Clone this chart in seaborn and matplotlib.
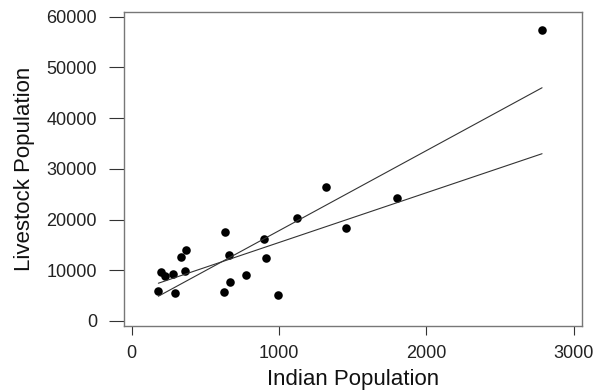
import numpy as np
import pandas as pd
import seaborn as sns
import matplotlib
matplotlib.use("Agg")
import matplotlib.pyplot as plt

# valores
indian_pop = [182, 200, 229, 282, 297, 338, 361, 372, 626, 636, 659, 670,
              777, 899, 912, 994, 1123, 1318, 1453, 1799, 2785]
livestock_pop = [5900, 9600, 8930, 9270, 5580, 12620, 9860, 14000, 5720, 17490,
                 13080, 7750, 9070, 16230, 12420, 5130, 20370, 26370, 18280,
                 24260, 57390]
x_ticks = [0, 1000, 2000, 3000]
y_ticks = [0, 10000, 20000, 30000, 40000, 50000, 60000]

df = pd.DataFrame({"indian": indian_pop, "livestock": livestock_pop})

sns.set_style("ticks")
plt.rcParams["font.family"] = ["Liberation Sans", "DejaVu Sans"]

fig = plt.figure(figsize=(5.94, 3.91), dpi=100)
ax = fig.add_axes([0.2088, 0.1662, 0.7705, 0.8038])

# reta com todos os pontos
sns.regplot(data=df, x="indian", y="livestock", ci=None, ax=ax,
            scatter_kws=dict(s=38, color="black", linewidths=0, alpha=1),
            line_kws=dict(color="#333333", lw=0.8))

# reta sem o ponto extremo, estendida ate o maior x
sub = df[df["indian"] < df["indian"].max()]
b, a = np.polyfit(sub["indian"], sub["livestock"], 1)
xs = np.array([df["indian"].min(), df["indian"].max()])
sns.lineplot(x=xs, y=a + b * xs, ax=ax, color="#333333", lw=0.8)

ax.set_xlim(-51, 3054)
ax.set_ylim(-990, 61000)
ax.set_xticks(x_ticks)
ax.set_yticks(y_ticks)

for s in ax.spines.values():
    s.set_visible(True)
    s.set_color("#777777")
    s.set_linewidth(1.0)

ax.tick_params(axis="x", length=6.5, width=0.8, color="#333333", pad=7,
               labelsize=13, labelcolor="#222222")
ax.tick_params(axis="y", length=10.5, width=0.8, color="#333333", pad=9,
               labelsize=13, labelcolor="#222222")

ax.set_xlabel("Indian Population", fontsize=16, color="#111111", labelpad=5)
ax.set_ylabel("Livestock Population", fontsize=16, color="#111111", labelpad=8)

plt.savefig("out.png", dpi=100)
